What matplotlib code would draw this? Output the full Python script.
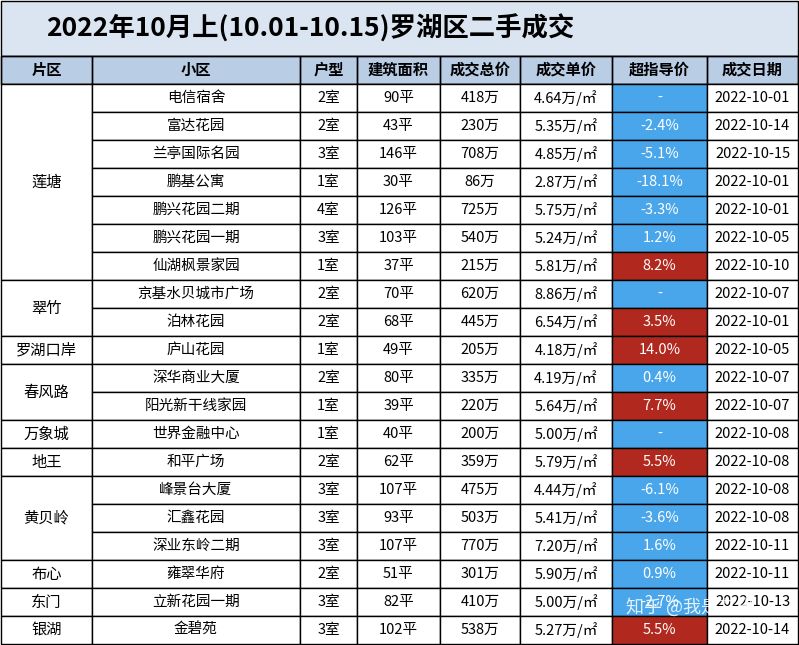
import matplotlib
matplotlib.use("Agg")
import matplotlib.pyplot as plt
from matplotlib.patches import Rectangle

plt.rcParams["font.family"] = ["Noto Sans CJK SC", "DejaVu Sans"]

title = "2022年10月上(10.01-10.15)罗湖区二手成交"
headers = ["片区", "小区", "户型", "建筑面积", "成交总价", "成交单价", "超指导价", "成交日期"]
districts = [("莲塘", 7), ("翠竹", 2), ("罗湖口岸", 1), ("春风路", 2), ("万象城", 1),
             ("地王", 1), ("黄贝岭", 3), ("布心", 1), ("东门", 1), ("银湖", 1)]
estates = ["电信宿舍", "富达花园", "兰亭国际名园", "鹏基公寓", "鹏兴花园二期", "鹏兴花园一期",
           "仙湖枫景家园", "京基水贝城市广场", "泊林花园", "庐山花园", "深华商业大厦", "阳光新干线家园",
           "世界金融中心", "和平广场", "峰景台大厦", "汇鑫花园", "深业东岭二期", "雍翠华府",
           "立新花园一期", "金碧苑"]
rooms = [2, 2, 3, 1, 4, 3, 1, 2, 2, 1, 2, 1, 1, 2, 3, 3, 3, 2, 3, 3]
areas = [90, 43, 146, 30, 126, 103, 37, 70, 68, 49, 80, 39, 40, 62, 107, 93, 107, 51, 82, 102]
totals = [418, 230, 708, 86, 725, 540, 215, 620, 445, 205, 335, 220, 200, 359, 475, 503, 770, 301, 410, 538]
unit_prices = [4.64, 5.35, 4.85, 2.87, 5.75, 5.24, 5.81, 8.86, 6.54, 4.18, 4.19, 5.64, 5.00, 5.79,
               4.44, 5.41, 7.20, 5.90, 5.00, 5.27]
over_guide = [None, -2.4, -5.1, -18.1, -3.3, 1.2, 8.2, None, 3.5, 14.0, 0.4, 7.7, None, 5.5,
              -6.1, -3.6, 1.6, 0.9, -2.7, 5.5]
red_flags = [0, 0, 0, 0, 0, 0, 1, 0, 1, 1, 0, 1, 0, 1, 0, 0, 0, 0, 0, 1]
dates = ["2022-10-01", "2022-10-14", "2022-10-15", "2022-10-01", "2022-10-01", "2022-10-05",
         "2022-10-10", "2022-10-07", "2022-10-01", "2022-10-05", "2022-10-07", "2022-10-07",
         "2022-10-08", "2022-10-08", "2022-10-08", "2022-10-08", "2022-10-11", "2022-10-11",
         "2022-10-13", "2022-10-14"]

W, H = 799, 645
fig = plt.figure(figsize=(W / 100, H / 100), dpi=100)
ax = fig.add_axes([0, 0, 1, 1])
ax.set_xlim(0, W)
ax.set_ylim(H, 0)
ax.axis("off")

cols = [1, 92, 300, 357, 440, 520, 612, 707, 798]
y_title0, y_head0, y_row0, y_end = 1, 56, 84, 644
n = len(estates)
rh = (y_end - y_row0) / n
lw = 1.0
blue = "#4aa6ea"
red = "#b0281e"

ax.add_patch(Rectangle((cols[0], y_title0), cols[-1] - cols[0], y_head0 - y_title0,
                       facecolor="#dbe5f1", edgecolor="black", lw=lw))
ax.text(310, 29, title, ha="center", va="center", fontsize=19, weight="bold")

ax.add_patch(Rectangle((cols[0], y_head0), cols[-1] - cols[0], y_row0 - y_head0,
                       facecolor="#b9cde5", edgecolor="black", lw=lw))
for i, h in enumerate(headers):
    ax.add_patch(Rectangle((cols[i], y_head0), cols[i + 1] - cols[i], y_row0 - y_head0,
                           facecolor="none", edgecolor="black", lw=lw))
    ax.text((cols[i] + cols[i + 1]) / 2, (y_head0 + y_row0) / 2, h, ha="center", va="center",
            fontsize=11, weight="bold")

r = 0
for name, span in districts:
    y0 = y_row0 + r * rh
    ax.add_patch(Rectangle((cols[0], y0), cols[1] - cols[0], span * rh,
                           facecolor="white", edgecolor="black", lw=lw))
    ax.text((cols[0] + cols[1]) / 2, y0 + span * rh / 2, name, ha="center", va="center", fontsize=11)
    r += span

for j in range(n):
    y0 = y_row0 + j * rh
    g = over_guide[j]
    vals = [estates[j], f"{rooms[j]}室", f"{areas[j]}平", f"{totals[j]}万",
            f"{unit_prices[j]:.2f}万/㎡", "-" if g is None else f"{g:.1f}%", dates[j]]
    for k, v in enumerate(vals):
        c = k + 1
        fc = "white"
        tc = "black"
        if c == 6:
            fc = red if red_flags[j] else blue
            tc = "white"
        ax.add_patch(Rectangle((cols[c], y0), cols[c + 1] - cols[c], rh,
                               facecolor=fc, edgecolor="black", lw=lw))
        ax.text((cols[c] + cols[c + 1]) / 2, y0 + rh / 2, v, ha="center", va="center",
                fontsize=10.5, color=tc)

ax.text(690, 607, "知乎 @我是艾米", ha="center", va="center", fontsize=13,
        color="white", alpha=0.85)

fig.savefig("out.png", dpi=100)
